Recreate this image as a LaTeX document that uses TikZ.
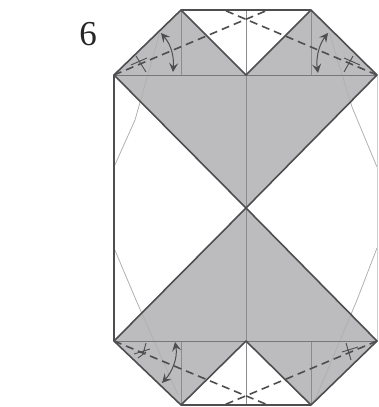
\documentclass[tikz,border=0pt]{standalone}
\usepackage{fontspec}
\setmainfont{Liberation Serif}
\usetikzlibrary{arrows.meta}
\definecolor{foldfill}{HTML}{BCBCBE}
\definecolor{edgecol}{HTML}{4E4E50}
\definecolor{creasecol}{HTML}{8C8C8E}
\definecolor{faintcol}{HTML}{B0B0B2}
\tikzset{
  edgeline/.style={draw=edgecol,line width=1.6pt,line join=round},
  crease/.style={draw=creasecol,line width=.9pt},
  faint/.style={draw=faintcol,line width=.8pt},
  valley/.style={draw=edgecol,line width=1.6pt,dash pattern=on 8pt off 5pt},
  tick/.style={draw=edgecol,line width=.9pt},
  flip/.style={draw=edgecol,line width=1pt,{Stealth[length=9pt,width=9pt,inset=3.5pt]}-{Stealth[length=9pt,width=9pt,inset=3.5pt]}}
}
\begin{document}
\begin{tikzpicture}[x=1pt,y=-1pt]
\useasboundingbox (0,0) rectangle (378,407);
\coordinate (tl) at (114,75); \coordinate (tr) at (377,75);
\coordinate (bl) at (114,341); \coordinate (br) at (377,341);
\coordinate (a1) at (181,10); \coordinate (a2) at (311,10);
\coordinate (b1) at (181,405); \coordinate (b2) at (311,405);
\coordinate (n1) at (246,75); \coordinate (n2) at (246,341);
\coordinate (c) at (246,208);
\fill[foldfill] (a1)--(n1)--(a2)--(tr)--(c)--(tl)--cycle;
\fill[foldfill] (bl)--(c)--(br)--(b2)--(n2)--(b1)--cycle;
% faint creases
\draw[faint] (160,32)--(135,120)--(114,167);
\draw[faint] (114,248)--(136,300)--(178,395);
\draw[faint] (329,32)--(352,107)--(377,167);
\draw[faint] (377,248)--(357,300)--(315,400);
% creases
\draw[crease] (246,10)--(246,405);
\draw[crease] (181,10)--(181,75) (311,10)--(311,75);
\draw[crease] (181,341)--(181,405) (311,341)--(311,405);
\draw[crease,draw=creasecol!85!black] (tl)--(tr) (bl)--(br);
\draw[faint,draw=faintcol!60] (tr)--(br);
% edges
\draw[edgeline] (bl)--(tl)--(a1)--(a2)--(tr)--(c)--(bl)--(b1)--(b2)--(br)--(c)--(tl);
\draw[edgeline] (a1)--(n1)--(a2);
\draw[edgeline] (b1)--(n2)--(b2);
% valley folds
\draw[valley] (tl)--(268,10);
\draw[valley] (tr)--(224,10);
\draw[valley] (bl)--(268,405);
\draw[valley] (br)--(224,405);
% ticks
\draw[tick] (136,56)--(146,72) (131,65)--(147,58);
\draw[tick] (353,56)--(344,72) (360,65)--(344,58);
\draw[tick] (146,343)--(143,354) (134,354)--(150,349) (138,358)--(146,352);
\draw[tick] (346,343)--(351,360) (342,352)--(358,347);
% arrows
\draw[flip] (161,33) .. controls (172,46) and (174,58) .. (173,72);
\draw[flip] (328,33) .. controls (318,46) and (316,60) .. (318,73);
\draw[flip] (175,342) .. controls (178,358) and (172,372) .. (162,383);
\node[font=\fontsize{35}{35}\selectfont,text=black!85,inner sep=0pt] (num) at (88,34) {6};
\end{tikzpicture}
\end{document}
